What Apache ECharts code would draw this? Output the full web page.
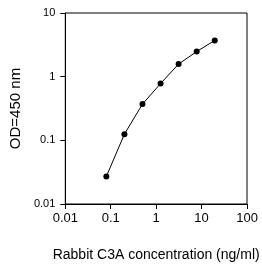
<!DOCTYPE html>
<html>
<head>
<meta charset="utf-8">
<script src="https://cdn.jsdelivr.net/npm/echarts@6/dist/echarts.min.js"></script>
<style>
html,body{margin:0;padding:0;background:#fff;}
#c{width:262px;height:267px;}
</style>
</head>
<body>
<div id="c"></div>
<script>
const concentrations = [0.08, 0.2, 0.5, 1.25, 3.125, 7.8, 19.5];
const odValues = [0.027, 0.125, 0.371, 0.78, 1.58, 2.48, 3.71];
const xTitle = 'Rabbit C3A concentration (ng/ml)';
const yTitle = 'OD=450 nm';

const chart = echarts.init(document.getElementById('c'), null, {renderer: 'canvas'});
const font = '"Liberation Sans", Arial, sans-serif';
chart.setOption({
  animation: false,
  backgroundColor: '#fff',
  grid: {left: 64, right: 14, top: 13, bottom: 59, show: true, borderColor: '#000', borderWidth: 1},
  xAxis: {
    type: 'log', logBase: 10, min: 0.01, max: 100,
    name: xTitle, nameLocation: 'middle', nameGap: 44,
    nameTextStyle: {fontFamily: font, fontSize: 14, color: '#000'},
    axisLine: {lineStyle: {color: '#000', width: 1}},
    axisTick: {show: true, inside: false, length: 5, lineStyle: {color: '#000'}},
    minorTick: {show: false},
    splitLine: {show: false},
    axisLabel: {fontFamily: font, fontSize: 13, color: '#000', margin: 8,
      formatter: v => String(+v.toPrecision(3))}
  },
  yAxis: {
    type: 'log', logBase: 10, min: 0.01, max: 10,
    name: yTitle, nameLocation: 'middle', nameGap: 36,
    nameTextStyle: {fontFamily: font, fontSize: 15, color: '#000'},
    axisLine: {show: true, lineStyle: {color: '#000', width: 1}},
    axisTick: {show: true, inside: false, length: 5, lineStyle: {color: '#000'}},
    splitLine: {show: false},
    axisLabel: {fontFamily: font, fontSize: 11, color: '#000', margin: 10,
      formatter: v => String(+v.toPrecision(3))}
  },
  series: [{
    type: 'line',
    data: concentrations.map((c, i) => [c, odValues[i]]),
    symbol: 'circle', symbolSize: 6,
    itemStyle: {color: '#000'},
    lineStyle: {color: '#000', width: 1}
  }]
});
</script>
</body>
</html>
